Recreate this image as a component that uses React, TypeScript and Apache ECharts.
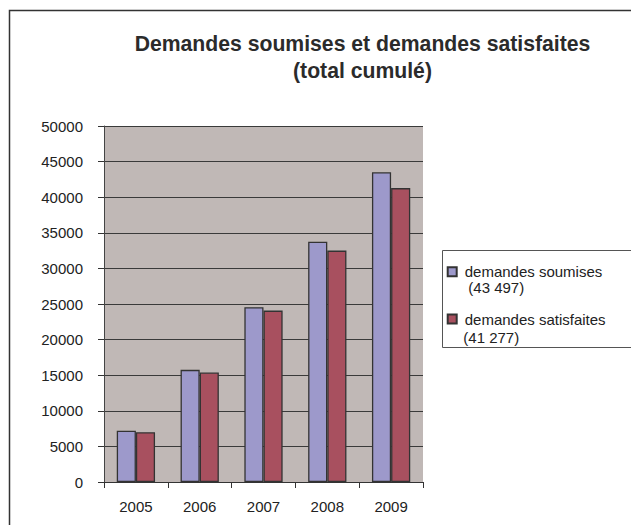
import React, { useEffect, useRef } from "react";
import * as echarts from "echarts";

const years = ["2005", "2006", "2007", "2008", "2009"];
const soumises = [7200, 15750, 24550, 33760, 43497];
const satisfaites = [6990, 15370, 24070, 32500, 41277];
const seriesNames = ["demandes soumises", "demandes satisfaites"];
const totals = [43497, 41277];
const titleText = "Demandes soumises et demandes satisfaites\n(total cumulé)";

const FONT = "'Liberation Sans', Arial, sans-serif";

const fmtTotal = (v: number) =>
  "(" + String(v).replace(/\B(?=(\d{3})+(?!\d))/g, " ") + ")";

export default function App() {
  const ref = useRef<HTMLDivElement>(null);
  useEffect(() => {
    if (!ref.current) return;
    const chart = echarts.init(ref.current, undefined, { renderer: "svg" });
    chart.setOption({
      animation: false,
      backgroundColor: "#ffffff",
      textStyle: { fontFamily: FONT },
      title: {
        text: titleText,
        left: 354.5,
        top: 22,
        padding: 0,
        textAlign: "center",
        textStyle: {
          fontFamily: FONT,
          fontSize: 21.2,
          fontWeight: "bold",
          color: "#2b2b2b",
          lineHeight: 27,
        },
      },
      graphic: [
        {
          type: "rect",
          z: -10,
          silent: true,
          shape: { x: 1.5, y: 2.5, width: 1000, height: 1000 },
          style: { fill: "none", stroke: "#333333", lineWidth: 1.5 },
        },
        {
          type: "rect",
          silent: true,
          shape: { x: 434.5, y: 242.5, width: 192, height: 97 },
          style: { fill: "#ffffff", stroke: "#555555", lineWidth: 1 },
          z: 0,
        },
        {
          type: "text",
          silent: true,
          z: 10,
          style: {
            text: fmtTotal(totals[0]),
            x: 460.3,
            y: 279,
            verticalAlign: "middle",
            fontFamily: FONT,
            fontSize: 15,
            fill: "#222222",
          },
        },
        {
          type: "text",
          silent: true,
          z: 10,
          style: {
            text: fmtTotal(totals[1]),
            x: 455.3,
            y: 329.5,
            verticalAlign: "middle",
            fontFamily: FONT,
            fontSize: 15,
            fill: "#222222",
          },
        },
      ],
      legend: {
        orient: "vertical",
        left: 438.7,
        top: 256.2,
        padding: 0,
        itemGap: 32.3,
        itemWidth: 9,
        itemHeight: 9,
        icon: "rect",
        z: 10,
        data: seriesNames,
        textStyle: {
          fontFamily: FONT,
          fontSize: 15,
          color: "#222222",
          lineHeight: 15,
          padding: [0, 0, 0, 3],
        },
      },
      grid: {
        left: 96,
        top: 118,
        right: 216,
        bottom: 43,
        show: true,
        backgroundColor: "#C0B8B6",
        borderWidth: 0,
        containLabel: false,
      },
      xAxis: {
        type: "category",
        data: years,
        axisLine: { show: true, lineStyle: { color: "#333333", width: 1 } },
        axisTick: { show: true, length: 6, lineStyle: { color: "#333333" } },
        axisLabel: { fontFamily: FONT, fontSize: 15, color: "#222222", margin: 17 },
      },
      yAxis: {
        type: "value",
        min: 0,
        max: 50000,
        interval: 5000,
        axisLine: { show: true, lineStyle: { color: "#444444", width: 1 } },
        axisTick: { show: true, length: 6, lineStyle: { color: "#333333" } },
        axisLabel: {
          fontFamily: FONT,
          fontSize: 15,
          color: "#222222",
          margin: 21,
          formatter: (v: number) => String(v),
        },
        splitLine: { show: true, lineStyle: { color: "#3a3a3a", width: 1 } },
      },
      series: [
        {
          name: seriesNames[0],
          type: "bar",
          data: soumises,
          barGap: "0%",
          barCategoryGap: "40%",
          itemStyle: { color: "#9D99CB", borderColor: "#333333", borderWidth: 1.3 },
        },
        {
          name: seriesNames[1],
          type: "bar",
          data: satisfaites,
          barGap: "0%",
          barCategoryGap: "40%",
          itemStyle: { color: "#A8505F", borderColor: "#333333", borderWidth: 1.3 },
        },
      ],
    });
    return () => chart.dispose();
  }, []);
  return <div ref={ref} style={{ width: 631, height: 517 }} />;
}
